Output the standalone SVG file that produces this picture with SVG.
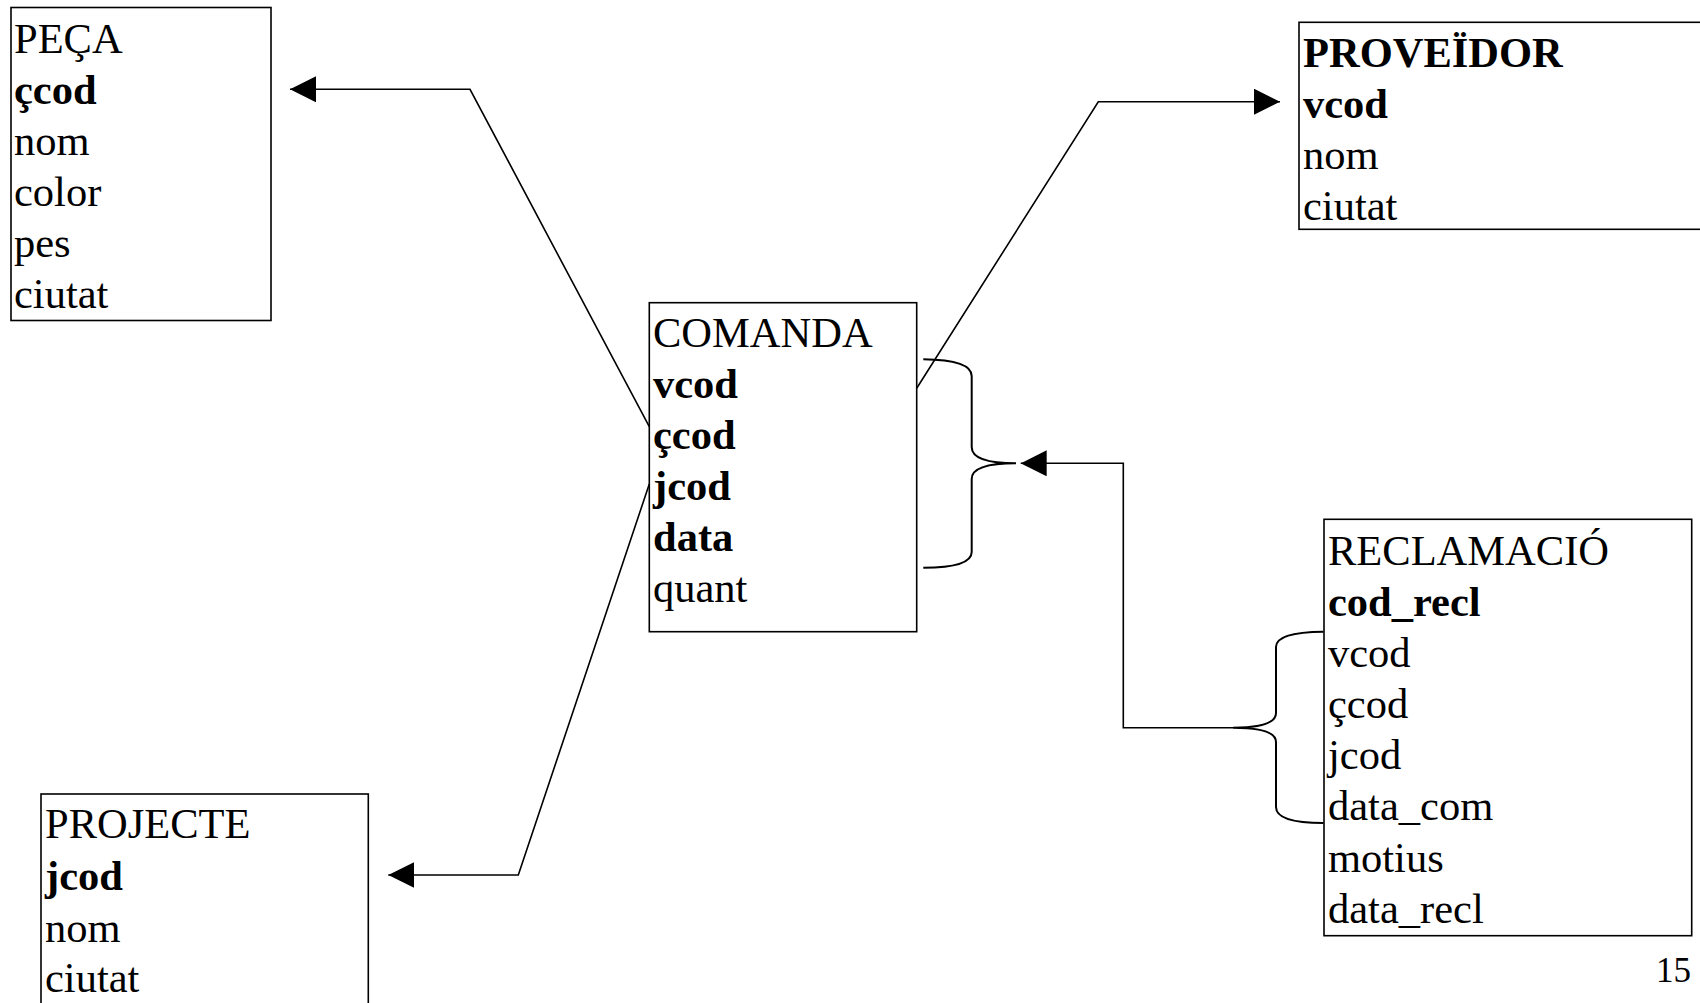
<svg xmlns="http://www.w3.org/2000/svg" width="1700" height="1003" viewBox="0 0 1700 1003">
<style>
.box{fill:#fff;stroke:#000;stroke-width:1.6}
.t{font-family:"Liberation Serif","Times New Roman",serif;font-size:42.5px;fill:#000}
.b{font-weight:bold}
.con{fill:none;stroke:#000;stroke-width:1.6}
.brace{fill:none;stroke:#000;stroke-width:2}
</style>
<defs>
<marker id="arr" markerUnits="userSpaceOnUse" markerWidth="26" markerHeight="26" viewBox="0 0 26 26" refX="26" refY="13" orient="auto">
<path d="M0,0 L26,13 L0,26 Z" fill="#000"/>
</marker>
</defs>
<rect width="1700" height="1003" fill="#fff"/>
<g id="peca">
<rect class="box" x="11" y="7.5" width="260" height="313"/>
<text class="t" x="14" y="53.3">PEÇA</text>
<text class="t b" x="14" y="103.5">çcod</text>
<text class="t" x="14" y="155">nom</text>
<text class="t" x="14" y="206">color</text>
<text class="t" x="14" y="257">pes</text>
<text class="t" x="14" y="308">ciutat</text>
</g>
<g id="comanda">
<rect class="box" x="649.3" y="302.7" width="267.4" height="329"/>
<text class="t" x="653" y="347">COMANDA</text>
<text class="t b" x="653" y="398">vcod</text>
<text class="t b" x="653" y="449">çcod</text>
<text class="t b" x="653" y="500">jcod</text>
<text class="t b" x="653" y="551">data</text>
<text class="t" x="653" y="602">quant</text>
</g>
<g id="proveidor">
<rect class="box" x="1299" y="22.3" width="450" height="207"/>
<text class="t b" x="1303" y="66.7">PROVEÏDOR</text>
<text class="t b" x="1303" y="118.3">vcod</text>
<text class="t" x="1303" y="169.3">nom</text>
<text class="t" x="1303" y="220">ciutat</text>
</g>
<g id="reclamacio">
<rect class="box" x="1324" y="519.3" width="367.7" height="416.4"/>
<text class="t" x="1328" y="565">RECLAMACIÓ</text>
<text class="t b" x="1328" y="616">cod_recl</text>
<text class="t" x="1328" y="666.7">vcod</text>
<text class="t" x="1328" y="718">çcod</text>
<text class="t" x="1328" y="769">jcod</text>
<text class="t" x="1328" y="820">data_com</text>
<text class="t" x="1328" y="871.5">motius</text>
<text class="t" x="1328" y="922.5">data_recl</text>
</g>
<g id="projecte">
<rect class="box" x="41" y="794" width="327.3" height="220"/>
<text class="t" x="45" y="838.3">PROJECTE</text>
<text class="t b" x="45" y="890">jcod</text>
<text class="t" x="45" y="941.7">nom</text>
<text class="t" x="45" y="991.7">ciutat</text>
</g>
<g id="connectors">
<polyline class="con" points="649.3,426.7 470,89.3 290,89.3" marker-end="url(#arr)"/>
<polyline class="con" points="916.7,388.3 1098.3,101.7 1280,101.7" marker-end="url(#arr)"/>
<polyline class="con" points="649.3,484 518.3,875 388.3,875" marker-end="url(#arr)"/>
<polyline class="con" points="1233,727.7 1123.3,727.7 1123.3,463.3 1020.7,463.3" marker-end="url(#arr)"/>
<path class="brace" d="M923.3,359.3 Q971.7,360 971.7,376 L971.7,447 Q971.7,463.3 1016,463.3 Q971.7,463.3 971.7,479 L971.7,552 Q971.7,567.7 923.3,567.7"/>
<path class="brace" d="M1323.5,631.7 Q1276,632 1276,647 L1276,713 Q1276,727.7 1233,727.7 Q1276,727.7 1276,742 L1276,807 Q1276,823 1323.5,823"/>
</g>
<text class="t" x="1691" y="982" text-anchor="end" style="font-size:35px">15</text>
</svg>
